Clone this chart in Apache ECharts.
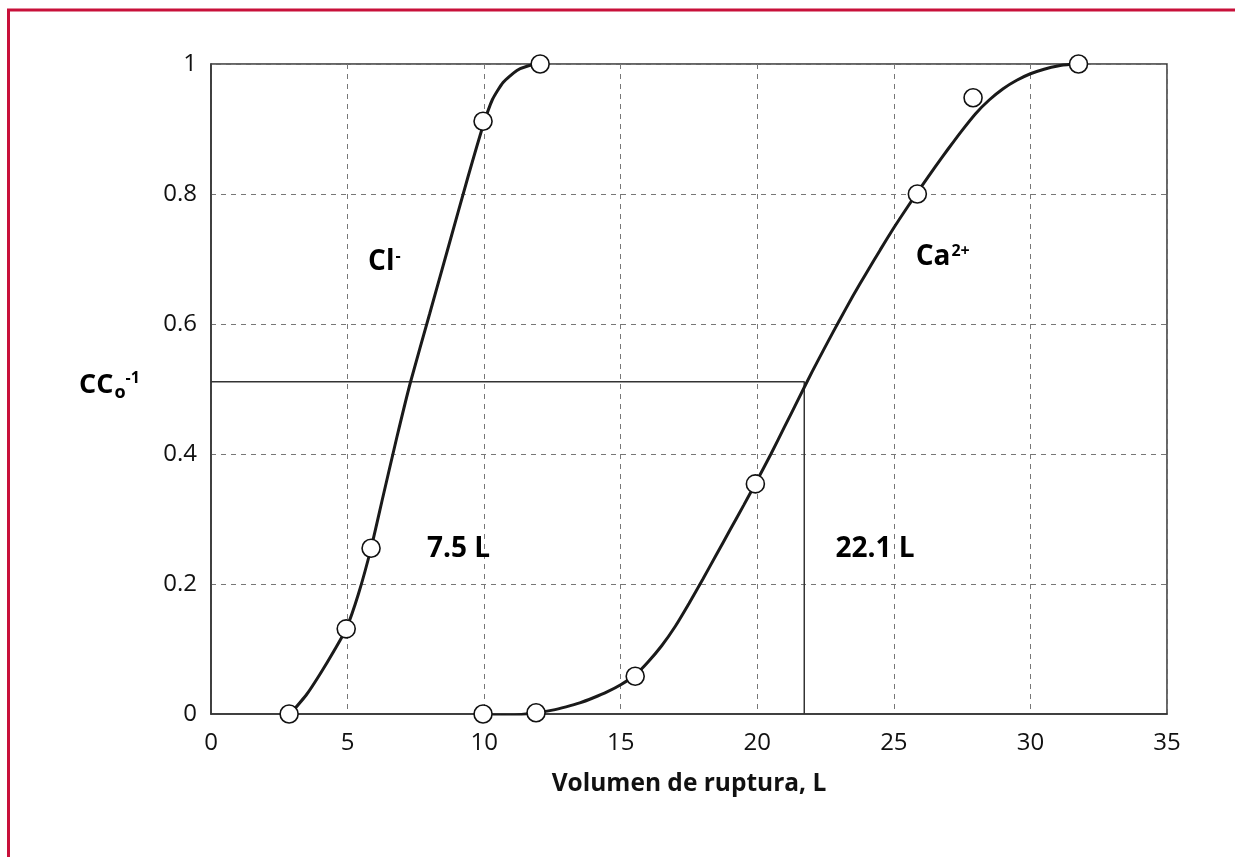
<!DOCTYPE html>
<html><head><meta charset="utf-8">
<script src="https://cdn.jsdelivr.net/npm/echarts@6/dist/echarts.min.js"></script>
<style>html,body{margin:0;padding:0;background:#fff}#c{width:1235px;height:857px}</style>
</head><body><div id="c"></div>
<script>
const FONT = "'Open Sans', 'Noto Sans', sans-serif";
// measured points
const clPoints = [[2.86,0],[4.95,0.131],[5.86,0.255],[9.96,0.912],[12.05,1.0]];
const caPoints = [[9.96,0],[11.9,0.002],[15.53,0.058],[19.93,0.354],[25.86,0.8],[27.9,0.948],[31.76,1.0]];
// fitted curves
const clCurve = [[2.9,0],[3.5,0.03],[4,0.062],[4.5,0.097],[4.95,0.131],[5.4,0.185],[5.86,0.255],[6.3,0.335],[6.8,0.425],[7.3,0.51],[8,0.615],[8.7,0.72],[9.4,0.825],[9.96,0.905],[10.3,0.945],[10.7,0.972],[11.2,0.99],[11.6,0.997],[12.05,1.0]];
const caCurve = [[10.3,-0.002],[11,-0.002],[11.9,0.002],[12.5,0.006],[13,0.011],[13.5,0.017],[14,0.025],[14.5,0.034],[15,0.045],[15.53,0.06],[16,0.08],[16.5,0.105],[17,0.135],[17.5,0.17],[18,0.207],[18.5,0.245],[19,0.283],[19.5,0.321],[20,0.36],[20.5,0.4],[21,0.442],[21.5,0.484],[22,0.526],[22.5,0.566],[23,0.605],[23.5,0.643],[24,0.679],[24.5,0.714],[25,0.748],[25.5,0.78],[26,0.811],[26.5,0.841],[27,0.87],[27.5,0.898],[28,0.924],[28.5,0.945],[29,0.962],[29.5,0.975],[30,0.985],[30.5,0.992],[31,0.997],[31.5,0.9995],[31.76,1.0]];
// breakthrough reading lines
const refLine = [[0,0.511],[21.72,0.511],[21.72,0]];
const xTicks = [0,5,10,15,20,25,30,35];
const yTicks = [0,0.2,0.4,0.6,0.8,1];
const annotations = [
  {x:5.75, y:0.695, rich:'{b|Cl}{sup|-}'},
  {x:25.8, y:0.703, rich:'{b|Ca}{sup|2+}'},
  {x:7.91, y:0.254, rich:'{b|7.5 L}'},
  {x:22.86, y:0.254, rich:'{b|22.1 L}'}
];
const chart = echarts.init(document.getElementById('c'));
const markerStyle = {color:'#fff', borderColor:'#111', borderWidth:1.6, opacity:1};
chart.setOption({
  animation:false,
  backgroundColor:'#fff',
  grid:{left:211, right:68, top:64, bottom:143, show:true, borderColor:'#333', borderWidth:1.5, backgroundColor:'transparent'},
  xAxis:{type:'value', min:0, max:35, interval:5,
    axisLine:{show:true, onZero:false, lineStyle:{color:'#333', width:1.5}},
    axisTick:{show:false},
    axisLabel:{fontFamily:FONT, fontSize:24, color:'#111', margin:17, formatter:v=>xTicks.includes(v)?String(v):''},
    splitLine:{show:true, lineStyle:{color:'#777', type:[5,5], width:1}},
    name:'Volumen de ruptura, L', nameLocation:'middle', nameGap:58,
    nameTextStyle:{fontFamily:FONT, fontSize:24.5, fontWeight:'bold', color:'#111'}
  },
  yAxis:{type:'value', min:0, max:1, interval:0.2,
    axisLine:{show:true, onZero:false, lineStyle:{color:'#333', width:1.5}},
    axisTick:{show:false},
    axisLabel:{fontFamily:FONT, fontSize:24, color:'#111', margin:14, formatter:v=>{const t=yTicks.find(k=>Math.abs(k-v)<1e-9);return t===undefined?'':String(t);}},
    splitLine:{show:true, lineStyle:{color:'#777', type:[5,5], width:1}}
  },
  series:[
    {type:'line', data:refLine, symbol:'none', lineStyle:{color:'#333', width:1.5}, z:2},
    {type:'line', data:clCurve, symbol:'none', smooth:0.2, lineStyle:{color:'#1a1a1a', width:3}, z:3},
    {type:'line', data:caCurve, symbol:'none', smooth:0.2, lineStyle:{color:'#1a1a1a', width:3}, z:3},
    {type:'scatter', data:clPoints, symbol:'circle', symbolSize:18, itemStyle:markerStyle, z:5, clip:false},
    {type:'scatter', data:caPoints, symbol:'circle', symbolSize:18, itemStyle:markerStyle, z:5, clip:false}
  ]
});
const rich = {
  b:{fontFamily:FONT, fontSize:28, fontWeight:'bold', color:'#111', lineHeight:32},
  sup:{fontFamily:FONT, fontSize:16, fontWeight:'bold', color:'#111', lineHeight:32, padding:[0,0,12,1]},
  main:{fontFamily:FONT, fontSize:27, fontWeight:'bold', color:'#111', lineHeight:34},
  sub:{fontFamily:FONT, fontSize:18, fontWeight:'bold', color:'#111', lineHeight:34, padding:[14,0,0,1]},
  sup2:{fontFamily:FONT, fontSize:16, fontWeight:'bold', color:'#111', lineHeight:34, padding:[0,0,14,0]}
};
const graphics = annotations.map(a=>{
  const p = chart.convertToPixel({gridIndex:0},[a.x,a.y]);
  return {type:'text', x:p[0], y:p[1], style:{text:a.rich, rich:rich, align:'left', verticalAlign:'middle'}, z:10};
});
const yn = chart.convertToPixel({gridIndex:0},[0,0.505]);
graphics.push({type:'text', x:79, y:yn[1], style:{text:'{main|CC}{sub|o}{sup2|-1}', rich:rich, align:'left', verticalAlign:'middle'}, z:10});
graphics.push({type:'rect', shape:{x:8.5, y:10, width:1300, height:1000}, style:{fill:'none', stroke:'#C8103A', lineWidth:3}, z:20, silent:true});
chart.setOption({graphic:graphics});
</script></body></html>
